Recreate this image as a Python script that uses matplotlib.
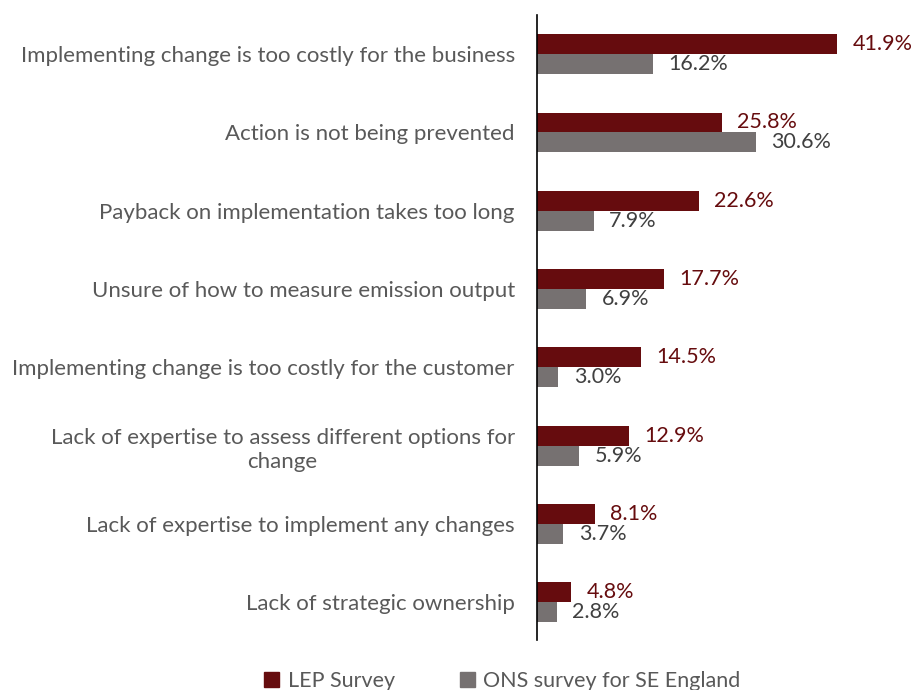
import matplotlib
matplotlib.use("Agg")
import matplotlib.pyplot as plt
from matplotlib.patches import Patch

categories = [
    "Implementing change is too costly for the business",
    "Action is not being prevented",
    "Payback on implementation takes too long",
    "Unsure of how to measure emission output",
    "Implementing change is too costly for the customer",
    "Lack of expertise to assess different options for\nchange",
    "Lack of expertise to implement any changes",
    "Lack of strategic ownership",
]
lep_survey = [41.9, 25.8, 22.6, 17.7, 14.5, 12.9, 8.1, 4.8]
ons_survey = [16.2, 30.6, 7.9, 6.9, 3.0, 5.9, 3.7, 2.8]
series_names = ["LEP Survey", "ONS survey for SE England"]

red = "#660C0E"
grey = "#767171"

plt.rcParams["font.family"] = ["Lato", "DejaVu Sans"]

fig = plt.figure(figsize=(9.15, 6.9), dpi=100)
ax = fig.add_axes([537 / 915, 50 / 690, 1 - 537 / 915, 625 / 690])

h = 0.255
ys = list(range(len(categories)))
ax.barh([y - h / 2 for y in ys], lep_survey, height=h, color=red)
ax.barh([y + h / 2 for y in ys], ons_survey, height=h, color=grey)

for y, v in zip(ys, lep_survey):
    ax.annotate(f"{v:.1f}%", (v, y - h / 2), xytext=(11, 0), textcoords="offset points",
                va="center", ha="left", fontsize=15.5, color=red)
for y, v in zip(ys, ons_survey):
    ax.annotate(f"{v:.1f}%", (v, y + h / 2), xytext=(11, 0), textcoords="offset points",
                va="center", ha="left", fontsize=15.5, color="#404040")

ax.set_xlim(0, 378 / 7.16)
ax.set_ylim(7.48, -0.5)
ax.set_yticks(ys)
ax.set_yticklabels(categories, fontsize=16, color="#595959", ha="right",
                   multialignment="center", linespacing=1.25)
ax.tick_params(axis="y", length=0, pad=16)
ax.set_xticks([])
for s in ["top", "right", "bottom"]:
    ax.spines[s].set_visible(False)
ax.spines["left"].set_color("black")
ax.spines["left"].set_linewidth(1.2)

handles = [Patch(color=red), Patch(color=grey)]
fig.legend(handles, series_names, loc="lower center", bbox_to_anchor=(0.549, -0.03), ncol=2,
           frameon=False, fontsize=15.5, handlelength=0.7, handleheight=0.7,
           handletextpad=0.4, columnspacing=3.0, labelcolor="#595959")

fig.savefig("out.png", dpi=100)
